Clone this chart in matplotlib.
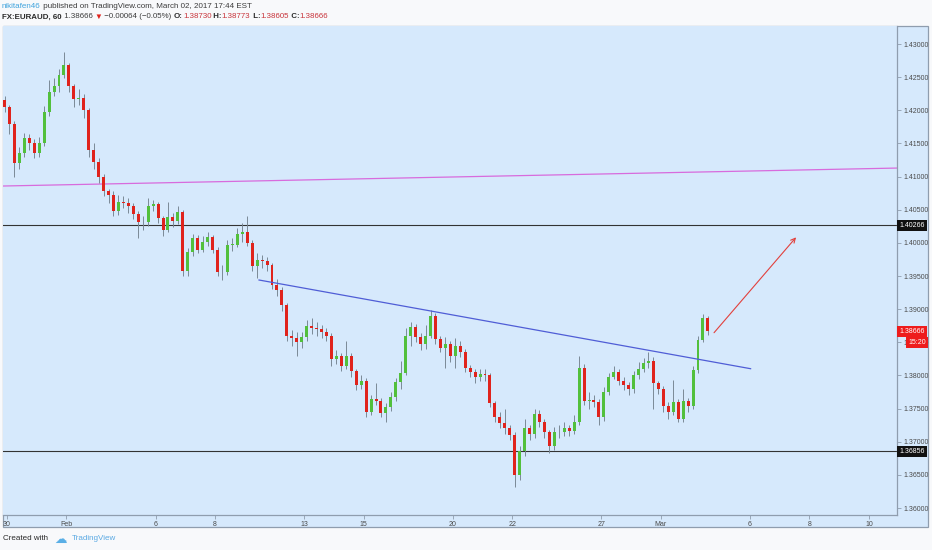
import matplotlib
matplotlib.use("Agg")
import matplotlib.pyplot as plt
from matplotlib.patches import Rectangle

# ---------------- data (4-hour candles) ----------------
first_open = 1.4215
closes = [
    1.4205, 1.4180, 1.4120, 1.4136, 1.4158, 1.4151, 1.4136, 1.4150, 1.4198, 1.4228,
    1.4236, 1.4253, 1.4268, 1.4236, 1.4217, 1.4219, 1.4200, 1.4140, 1.4122, 1.4099,
    1.4078, 1.4072, 1.4048, 1.4062, 1.4060, 1.4056, 1.4043, 1.4031, 1.4031, 1.4056,
    1.4058, 1.4037, 1.4020, 1.4039, 1.4033, 1.4046, 1.3957, 1.3986, 1.4007, 1.3990,
    1.4002, 1.4009, 1.3990, 1.3956, 1.3956, 1.3997, 1.3997, 1.4014, 1.4016, 1.4000,
    1.3965, 1.3974, 1.3972, 1.3966, 1.3937, 1.3929, 1.3906, 1.3860, 1.3857, 1.3851,
    1.3858, 1.3874, 1.3872, 1.3870, 1.3865, 1.3860, 1.3825, 1.3829, 1.3815, 1.3830,
    1.3806, 1.3785, 1.3791, 1.3745, 1.3765, 1.3762, 1.3744, 1.3752, 1.3768, 1.3790,
    1.3804, 1.3860, 1.3873, 1.3858, 1.3847, 1.3860, 1.3889, 1.3855, 1.3842, 1.3847,
    1.3829, 1.3844, 1.3836, 1.3812, 1.3805, 1.3798, 1.3802, 1.3800, 1.3758, 1.3738,
    1.3728, 1.3720, 1.3710, 1.3650, 1.3686, 1.3720, 1.3711, 1.3742, 1.3730, 1.3714,
    1.3694, 1.3715, 1.3714, 1.3720, 1.3716, 1.3730, 1.3812, 1.3762, 1.3763, 1.3760,
    1.3737, 1.3775, 1.3797, 1.3805, 1.3792, 1.3786, 1.3779, 1.3800, 1.3810, 1.3819,
    1.3822, 1.3789, 1.3780, 1.3754, 1.3745, 1.3760, 1.3735, 1.3762, 1.3754, 1.3808,
    1.3853, 1.3886, 1.38666,
]
highs = [
    1.4222, 1.4208, 1.4184, 1.4145, 1.4166, 1.4165, 1.4156, 1.4160, 1.4206, 1.4245,
    1.4248, 1.4262, 1.4288, 1.4272, 1.4240, 1.4232, 1.4224, 1.4204, 1.4150, 1.4128,
    1.4104, 1.4082, 1.4078, 1.4072, 1.4070, 1.4068, 1.4060, 1.4048, 1.4040, 1.4068,
    1.4065, 1.4062, 1.4040, 1.4062, 1.4045, 1.4055, 1.4050, 1.3992, 1.4014, 1.4012,
    1.4010, 1.4016, 1.4012, 1.3994, 1.3966, 1.4005, 1.4008, 1.4022, 1.4030, 1.4040,
    1.4004, 1.3984, 1.3982, 1.3978, 1.3970, 1.3946, 1.3934, 1.3910, 1.3868, 1.3866,
    1.3866, 1.3884, 1.3886, 1.3880, 1.3876, 1.3872, 1.3864, 1.3838, 1.3834, 1.3852,
    1.3834, 1.3810, 1.3800, 1.3796, 1.3770, 1.3788, 1.3766, 1.3758, 1.3775, 1.3796,
    1.3822, 1.3872, 1.3880, 1.3878, 1.3864, 1.3876, 1.3899, 1.3894, 1.3860, 1.3858,
    1.3852, 1.3856, 1.3852, 1.3840, 1.3816, 1.3810, 1.3810, 1.3810, 1.3804, 1.3762,
    1.3745, 1.3750, 1.3725, 1.3714, 1.3694, 1.3735, 1.3726, 1.3750, 1.3748, 1.3734,
    1.3718, 1.3722, 1.3725, 1.3730, 1.3726, 1.3740, 1.3830, 1.3818, 1.3775, 1.3770,
    1.3764, 1.3782, 1.3804, 1.3815, 1.3810, 1.3798, 1.3790, 1.3806, 1.3820, 1.3826,
    1.3835, 1.3828, 1.3792, 1.3784, 1.3760, 1.3793, 1.3764, 1.3780, 1.3766, 1.3815,
    1.3860, 1.3892, 1.3890,
]
lows = [
    1.4198, 1.4165, 1.4100, 1.4112, 1.4130, 1.4140, 1.4128, 1.4130, 1.4146, 1.4192,
    1.4222, 1.4228, 1.4248, 1.4228, 1.4205, 1.4208, 1.4188, 1.4130, 1.4112, 1.4090,
    1.4070, 1.4060, 1.4040, 1.4042, 1.4052, 1.4045, 1.4036, 1.4008, 1.4020, 1.4026,
    1.4048, 1.4030, 1.4010, 1.4016, 1.4024, 1.4028, 1.3950, 1.3950, 1.3980, 1.3984,
    1.3986, 1.3995, 1.3984, 1.3950, 1.3944, 1.3952, 1.3988, 1.3994, 1.4002, 1.3995,
    1.3958, 1.3947, 1.3962, 1.3958, 1.3930, 1.3920, 1.3898, 1.3852, 1.3845, 1.3830,
    1.3842, 1.3852, 1.3862, 1.3860, 1.3856, 1.3852, 1.3815, 1.3818, 1.3806, 1.3810,
    1.3798, 1.3778, 1.3780, 1.3738, 1.3740, 1.3755, 1.3738, 1.3730, 1.3746, 1.3762,
    1.3780, 1.3800, 1.3845, 1.3850, 1.3838, 1.3840, 1.3856, 1.3848, 1.3835, 1.3812,
    1.3820, 1.3812, 1.3828, 1.3805, 1.3798, 1.3788, 1.3792, 1.3792, 1.3752, 1.3730,
    1.3720, 1.3712, 1.3702, 1.3632, 1.3642, 1.3678, 1.3702, 1.3706, 1.3722, 1.3706,
    1.3683, 1.3688, 1.3705, 1.3708, 1.3708, 1.3712, 1.3726, 1.3755, 1.3750, 1.3752,
    1.3725, 1.3732, 1.3770, 1.3795, 1.3785, 1.3778, 1.3770, 1.3774, 1.3795, 1.3805,
    1.3812, 1.3750, 1.3772, 1.3745, 1.3735, 1.3740, 1.3730, 1.3730, 1.3745, 1.3750,
    1.3804, 1.3850, 1.38605,
]

date_ticks = [0, 2, 5, 7, 10, 12, 15, 17, 20, 22, 25, 27, 29]
date_labels = ["30", "Feb", "6", "8", "13", "15", "20", "22", "27", "Mar", "6", "8", "10"]
price_ticks = [1.36, 1.365, 1.37, 1.375, 1.38, 1.385, 1.39, 1.395, 1.40, 1.405,
               1.41, 1.415, 1.42, 1.425, 1.43]

level_high = 1.40266
level_low = 1.36856
pink_line_days = [-0.1346, 29.946]
pink_line_prices = [1.40858, 1.41129]
blue_line_days = [8.48, 25.02]
blue_line_prices = [1.39440, 1.38102]
arrow_days = [23.79, 26.55]
arrow_prices = [1.38645, 1.40084]
last_price = 1.38666

# ---------------- figure ----------------
W, H = 932, 550
fig = plt.figure(figsize=(W / 100, H / 100), dpi=100)
fig.patch.set_facecolor("#F8F9FB")
FONT = ["Liberation Sans", "DejaVu Sans"]
plt.rcParams["font.family"] = FONT

BG = "#D6E9FC"
FRAME = "#8F9DAE"

def fx(px):
    return px / W

def fy(py):
    return 1 - py / H

# outer panel (behind the axes)
fig.patches.append(Rectangle((fx(3), fy(527)), fx(928) - fx(3), fy(26) - fy(527),
                             transform=fig.transFigure, fc=BG, ec=FRAME, lw=0.9, zorder=-5))

ax = fig.add_axes([fx(3), fy(515), fx(897) - fx(3), fy(26) - fy(515)])
ax.set_zorder(1)
ax.set_facecolor(BG)
ax.set_xlim(-0.1346, 29.946)
ax.set_ylim(1.35895, 1.43272)
for s in ["left", "top"]:
    ax.spines[s].set_visible(False)
for s in ["right", "bottom"]:
    ax.spines[s].set_color(FRAME)
    ax.spines[s].set_linewidth(0.9)

ax.yaxis.tick_right()
ax.set_yticks(price_ticks)
ax.set_yticklabels([f"{p:.5f}" for p in price_ticks])
ax.set_xticks(date_ticks)
ax.set_xticklabels(date_labels)
ax.tick_params(axis="y", length=3, width=0.6, color=FRAME, pad=2, labelsize=5, labelcolor="#4A4A4A")
ax.tick_params(axis="x", length=3, width=0.6, color=FRAME, pad=1.2, labelsize=5, labelcolor="#4A4A4A")

# ---------------- candles ----------------
UP = "#52C03C"
DN = "#E0231C"
WICK = "#74838F"
opens = [first_open] + closes[:-1]
xs = [(4 * k - 2) / 24 for k in range(len(closes))]
ax.vlines(xs, lows, highs, color=WICK, lw=0.65, zorder=3)
body_h = [max(abs(c - o), 0.00008) for o, c in zip(opens, closes)]
body_b = [min(o, c) for o, c in zip(opens, closes)]
cols = [UP if c >= o else DN for o, c in zip(opens, closes)]
ax.bar(xs, body_h, bottom=body_b, width=0.1, color=cols, lw=0, zorder=4)

# ---------------- drawings ----------------
ax.axhline(level_high, color="#333333", lw=0.8, zorder=2)
ax.axhline(level_low, color="#333333", lw=0.8, zorder=2)
ax.plot(pink_line_days, pink_line_prices, color="#D86BDD", lw=0.9, zorder=2)
ax.plot(blue_line_days, blue_line_prices, color="#4F5DD6", lw=0.9, zorder=5)
ax.annotate("", xy=(arrow_days[1], arrow_prices[1]), xytext=(arrow_days[0], arrow_prices[0]),
            arrowprops=dict(arrowstyle="->", color="#E2403C", lw=0.8, mutation_scale=8,
                            shrinkA=0, shrinkB=0), zorder=5)

# ---------------- price labels on the axis ----------------
ytr = ax.get_yaxis_transform()
pad_ax = 2.2 / 894
def axis_box(price, text, fc, x0=1.0):
    ax.text(x0 + pad_ax, price, text, transform=ytr, ha="left", va="center",
            fontsize=5, color="white", clip_on=False, zorder=10,
            bbox=dict(boxstyle="square,pad=0.32", fc=fc, ec="none"))

axis_box(level_high, f"{level_high:.5f}", "#111111")
axis_box(level_low, f"{level_low:.5f}", "#111111")
axis_box(last_price, f"{last_price:.5f}", "#EE1C1C")
ax.text(1.0 + 9 / 894 + pad_ax, 1.3850, "15:20", transform=ytr, ha="left", va="center",
        fontsize=5, color="white", clip_on=False, zorder=10,
        bbox=dict(boxstyle="square,pad=0.32", fc="#EE1C1C", ec="none"))

# ---------------- header ----------------
fig.canvas.draw()
renderer = fig.canvas.get_renderer()

def text_run(pieces, x_px, y_px, size=5.8):
    x = fx(x_px)
    for txt, col, weight in pieces:
        t = fig.text(x, fy(y_px), txt, color=col, fontsize=size, fontweight=weight,
                     ha="left", va="center", family=FONT)
        bb = t.get_window_extent(renderer)
        x = bb.x1 / W

DARK = "#3C3C3C"
RED = "#C8343B"
text_run([("nikitafen46", "#3FA3DD", "normal"),
          (" published on TradingView.com, March 02, 2017 17:44 EST", DARK, "normal")], 2, 6)
text_run([("FX:EURAUD, 60", "#2A2A2A", "bold"),
          (" 1.38666 ", DARK, "normal"),
          ("▼", "#E0231C", "normal"),
          (" \u22120.00064 (\u22120.05%) ", DARK, "normal"),
          ("O:", "#2A2A2A", "bold"), ("1.38730", RED, "normal"),
          (" H:", "#2A2A2A", "bold"), ("1.38773", RED, "normal"),
          (" L:", "#2A2A2A", "bold"), ("1.38605", RED, "normal"),
          (" C:", "#2A2A2A", "bold"), ("1.38666", RED, "normal")], 2, 17, size=5.7)

# ---------------- footer ----------------
text_run([("Created with", "#2A2A2A", "normal")], 3, 539)
fig.text(fx(54), fy(539), "\u2601", color="#5AAFE6", fontsize=9, ha="left", va="center",
         family=["DejaVu Sans"])
text_run([("TradingView", "#5AA9E3", "normal")], 72, 539)

fig.savefig("out.png", dpi=100, facecolor=fig.get_facecolor())
